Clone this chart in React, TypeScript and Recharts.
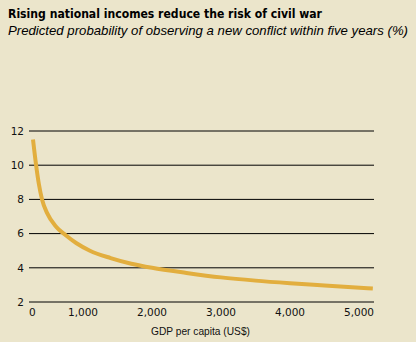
import React from "react";
import { LineChart, Line, XAxis, YAxis, CartesianGrid } from "recharts";

const gdpPerCapita = [275, 320, 360, 406, 480, 610, 750, 900, 1100, 1400, 1700, 2000, 2500, 3000, 3500, 4000, 4500, 5200];
const conflictProb = [11.5, 10.0, 8.9, 8.0, 7.2, 6.4, 5.9, 5.45, 5.0, 4.57, 4.24, 4.0, 3.7, 3.44, 3.25, 3.1, 2.97, 2.79];

const xDomain = [217, 5217];
const xTicks = [217, 1000, 2000, 3000, 4000, 5000];
const xTickLabels = ["0", "1,000", "2,000", "3,000", "4,000", "5,000"];
const yTicks = [2, 4, 6, 8, 10, 12];

const title = "Rising national incomes reduce the risk of civil war";
const subtitle = "Predicted probability of observing a new conflict within five years (%)";
const xLabel = "GDP per capita (US$)";

const data = gdpPerCapita.map((g, i) => ({ gdp: g, prob: conflictProb[i] }));

const BG = "#EBE5CB";
const LINE = "#E2AE3E";
const TICK_FONT = "'DejaVu Sans', sans-serif";

const XTick = (props: any) => {
  const { x, y, payload, index } = props;
  const i = xTicks.indexOf(payload.value);
  const label = i >= 0 ? xTickLabels[i] : String(payload.value);
  return (
    <text
      x={x}
      y={y}
      dy="0.71em"
      textAnchor={index === 0 ? "start" : "middle"}
      fontSize={10.5}
      fontFamily={TICK_FONT}
      fill="#111"
    >
      {label}
    </text>
  );
};

const YTick = (props: any) => {
  const { x, y, payload } = props;
  return (
    <text x={x} y={y} dy="0.36em" textAnchor="end" fontSize={10.5} fontFamily={TICK_FONT} fill="#111">
      {payload.value}
    </text>
  );
};

export default function App() {
  return (
    <div
      style={{
        position: "absolute",
        left: 0,
        top: 0,
        width: 416,
        height: 342,
        background: BG,
        overflow: "hidden",
      }}
    >
      <svg width={416} height={50} style={{ position: "absolute", left: 0, top: 0 }}>
        <text
          x={8}
          y={18}
          fontFamily="'DejaVu Sans', sans-serif"
          fontWeight="bold"
          fontSize={12.5}
          textLength={314}
          lengthAdjust="spacingAndGlyphs"
          fill="#000"
        >
          {title}
        </text>
        <text
          x={8}
          y={35}
          fontFamily="'Liberation Sans', sans-serif"
          fontStyle="italic"
          fontSize={13}
          textLength={400}
          lengthAdjust="spacingAndGlyphs"
          fill="#000"
        >
          {subtitle}
        </text>
      </svg>
      <div style={{ position: "absolute", left: 0, top: 0 }}>
        <LineChart width={416} height={342} data={data} margin={{ top: 131, right: 42, bottom: 0, left: 0 }}>
          <CartesianGrid horizontal={true} vertical={false} stroke="#000" strokeWidth={1} strokeOpacity={1} />
          <XAxis
            dataKey="gdp"
            type="number"
            domain={xDomain}
            ticks={xTicks}
            allowDataOverflow={true}
            axisLine={false}
            tickLine={false}
            tickSize={0}
            tickMargin={7}
            height={40}
            interval={0}
            tick={<XTick />}
            label={{
              value: xLabel,
              position: "insideBottom",
              offset: 7,
              fontSize: 10.2,
              fontFamily: "'Liberation Sans', sans-serif",
              fill: "#111",
              dx: -1,
            }}
          />
          <YAxis
            type="number"
            domain={[2, 12]}
            ticks={yTicks}
            axisLine={false}
            tickLine={false}
            tickSize={0}
            tickMargin={5}
            width={29}
            interval={0}
            tick={<YTick />}
          />
          <Line
            type="monotone"
            dataKey="prob"
            stroke={LINE}
            strokeWidth={4}
            dot={false}
            isAnimationActive={false}
          />
        </LineChart>
      </div>
    </div>
  );
}
